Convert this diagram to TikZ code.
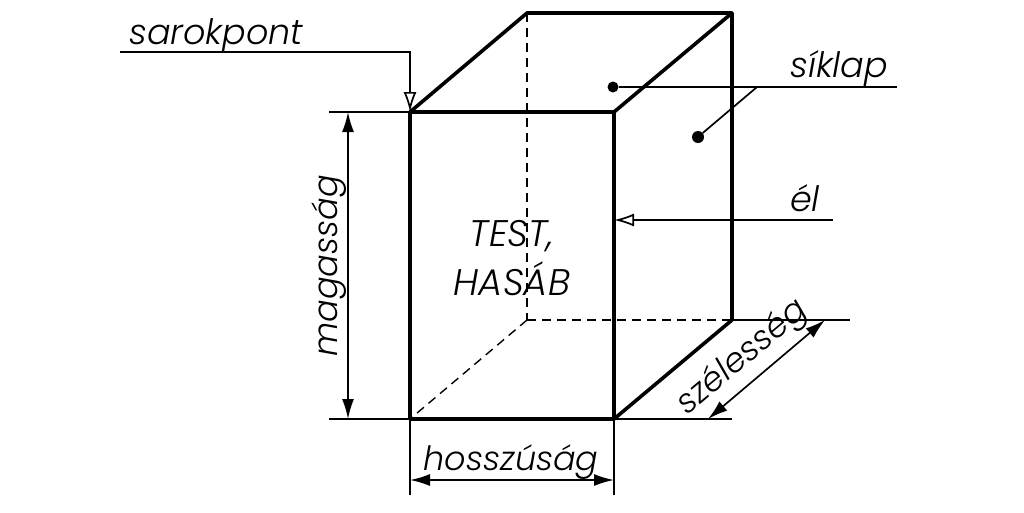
\documentclass[tikz,border=0pt]{standalone}
\usepackage{fontspec}
\setmainfont{Poppins Light}[ItalicFont={Poppins Light Italic}]
\usetikzlibrary{arrows.meta}
\tikzset{
  thick line/.style={line width=3.6pt},
  thin line/.style={line width=1.7pt},
  hidden line/.style={line width=1.4pt, dash pattern=on 9pt off 6pt},
  dim arrow/.style={thin line, {Latex[length=20pt,width=12pt]}-{Latex[length=20pt,width=12pt]}},
  open tip/.style={thin line, -{Latex[open,length=20pt,width=13pt]}},
  label text/.style={font=\fontsize{35}{40}\selectfont\itshape, inner sep=0pt},
  small label/.style={font=\fontsize{33.5}{40}\selectfont\itshape, inner sep=0pt},
  big label/.style={font=\fontsize{37}{40}\selectfont\itshape, inner sep=0pt},
  face dot/.style={circle, fill=black, inner sep=0pt, minimum size=11pt}
}
\begin{document}
\begin{tikzpicture}[x=1pt,y=-1pt]
\useasboundingbox (0,0) rectangle (1024,512);

\coordinate (fronttl) at (410,112);
\coordinate (fronttr) at (614,112);
\coordinate (frontbl) at (410,419);
\coordinate (frontbr) at (614,419);
\coordinate (backtl) at (527,13);
\coordinate (backtr) at (732,13);
\coordinate (backbl) at (527,320);
\coordinate (backbr) at (732,320);

\draw [hidden line] (backtl) -- (backbl);
\draw [hidden line] (backbl) -- (backbr);
\draw [hidden line] (backbl) -- (frontbl);

\draw [thin line] (329,112) -- (fronttl);
\draw [thin line] (329,419) -- (732,419);
\draw [thin line] (backbr) -- (850,320);
\draw [thin line] (frontbl) -- (410,495);
\draw [thin line] (frontbr) -- (614,495);

\draw [thick line, line join=round] (fronttl) -- (fronttr) -- (frontbr) -- (frontbl) -- cycle;
\draw [thick line, line join=round] (fronttl) -- (backtl) -- (backtr) -- (fronttr);
\draw [thick line, line join=round] (backtr) -- (backbr) -- (frontbr);

\draw [open tip] (120,52) -- (410,52) -- (fronttl); \node[label text, anchor=base west] (sarokpont) at (129,44) {sarokpont};

\node[face dot] (topdot) at (613,87) {};
\node[face dot, minimum size=12pt] (sidedot) at (698,137) {};
\coordinate (siklapend) at (897,87);
\draw [thin line] (topdot) -- (siklapend); \node[label text, anchor=base west] (siklap) at (790,77) {síklap};
\draw [thin line] (sidedot) -- (757,87);

\draw [open tip] (833,220) -- (614,220); \node[label text, anchor=base west] (el) at (790,211) {él};

\node[big label, align=center] (test) at (512,258) {TEST,\\[9pt]HASÁB};

\draw [dim arrow] (348,112) -- (348,419); \node[small label, rotate=90] (magassag) at (329,266) {magasság};
\draw [dim arrow] (410,480) -- (614,480); \node[small label] (hosszusag) at (511,462) {hosszúság};
\draw [dim arrow] (825,320) -- (708,419); \node[small label, rotate=40] (szelesseg) at (743,358) {szélesség};

\end{tikzpicture}
\end{document}
